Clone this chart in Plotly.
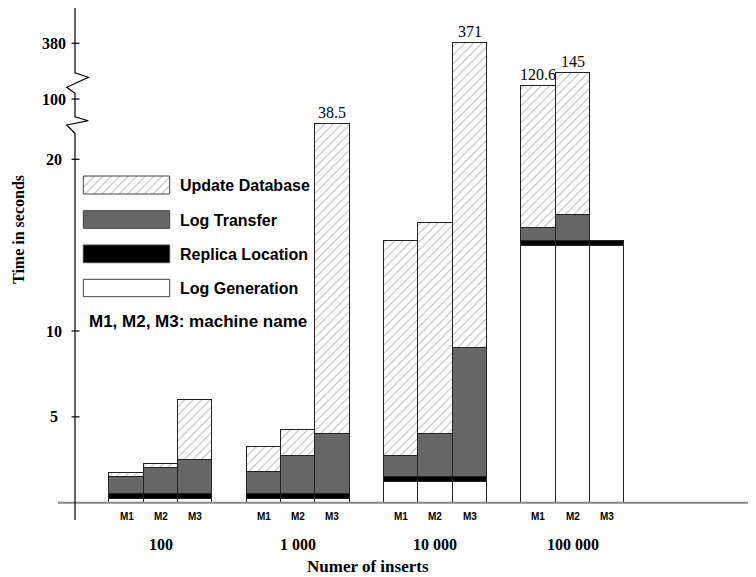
import plotly.graph_objects as go

# ---------------- data (heights on the broken display axis) ----------------
groups = ["100", "1 000", "10 000", "100 000"]
machines = ["M1", "M2", "M3"]
log_generation = [0.21, 0.21, 0.21, 0.21, 0.21, 0.21, 1.22, 1.22, 1.22, 14.97, 14.97, 14.97]
replica_location = [0.30, 0.30, 0.30, 0.30, 0.30, 0.30, 0.26, 0.26, 0.26, 0.29, 0.29, 0.29]
log_transfer = [0.97, 1.49, 1.98, 1.26, 2.21, 3.49, 1.26, 2.50, 7.52, 0.76, 1.50, None]
update_database = [0.25, 0.25, 3.51, 1.49, 1.51, 18.04, 12.49, 12.30, 17.76, 8.24, 8.24, None]
value_label_index = [5, 8, 9, 10]
value_labels = ["38.5", "371", "120.6", "145"]
ytick_vals = [5, 10, 20, 23.51, 26.76]
ytick_text = ["5", "10", "20", "100", "380"]
legend_names = ["Update Database", "Log Transfer", "Replica Location", "Log Generation"]

PAGE_W, PAGE_H = 756, 577
OFF = 8  # browser body margin
W, H = PAGE_W - OFF, PAGE_H - OFF
SERIF = "Liberation Serif, Times New Roman, serif"
SANS = "Liberation Sans, Arial, sans-serif"

# x positions: 3 bars per group, one empty slot between groups
xpos = [4 * g + m for g in range(len(groups)) for m in range(len(machines))]

HATCH = dict(shape="/", fgcolor="#6a6a6a", bgcolor="white", size=6, solidity=0.16)
GRAY = "#666666"
EDGE = "#222222"

fig = go.Figure()
series = [
    ("Log Generation", log_generation, dict(color="white")),
    ("Replica Location", replica_location, dict(color="black")),
    ("Log Transfer", log_transfer, dict(color=GRAY)),
    ("Update Database", update_database, dict(color="white", pattern=HATCH)),
]
for name, vals, mk in series:
    mk = dict(mk)
    mk["line"] = dict(color=EDGE, width=1)
    fig.add_trace(go.Bar(x=xpos, y=vals, name=name, width=1, marker=mk,
                         showlegend=False, hoverinfo="skip"))

# scale: slot width 34.33 px, slot0 centre at page x 126.5; 17.17 px per unit, zero at page y 502.7
SX, X0 = 34.33, 126.5
SY, Y0 = 17.17, 502.7
fig.update_layout(
    width=W, height=H, margin=dict(l=0, r=0, t=0, b=0),
    paper_bgcolor="white", plot_bgcolor="white", barmode="stack", bargap=0,
    xaxis=dict(range=[(OFF - X0) / SX, (PAGE_W - X0) / SX], visible=False, fixedrange=True),
    yaxis=dict(range=[(Y0 - PAGE_H) / SY, (Y0 - OFF) / SY], visible=False, fixedrange=True),
    xaxis2=dict(range=[OFF, PAGE_W], overlaying="x", anchor="y2", visible=False),
    yaxis2=dict(range=[PAGE_H, OFF], overlaying="y", anchor="x2", visible=False),
)

# legend swatches
sw_y = [(176, 194), (210.7, 228.3), (245, 262.7), (279.3, 296.7)]
sw_style = {
    "Update Database": dict(fillcolor="white", fillpattern=HATCH),
    "Log Transfer": dict(fillcolor=GRAY),
    "Replica Location": dict(fillcolor="black"),
    "Log Generation": dict(fillcolor="white"),
}
x0, x1 = 83.3, 169.7
for name, (ya, yb) in zip(legend_names, sw_y):
    fig.add_trace(go.Scatter(x=[x0, x1, x1, x0, x0], y=[ya, ya, yb, yb, ya],
                             mode="lines", fill="toself", line=dict(color="#444", width=1),
                             xaxis="x2", yaxis="y2", showlegend=False, hoverinfo="skip",
                             **sw_style[name]))
    fig.add_annotation(x=178, y=(ya + yb) / 2 + 0.5, xref="x2", yref="y2", text=name,
                       showarrow=False, xanchor="left", yanchor="middle",
                       font=dict(family=SANS, size=16, color="black", weight="bold"))
fig.add_annotation(x=87, y=321.7, xref="x2", yref="y2", text="M1, M2, M3: machine name",
                   showarrow=False, xanchor="left", yanchor="middle",
                   font=dict(family=SANS, size=17, color="black", weight="bold"))

# baseline (gray)
fig.add_shape(type="line", xref="x2", yref="y", x0=58, x1=PAGE_W, y0=0, y1=0,
              line=dict(color="#888888", width=2))
# broken y axis
fig.add_shape(type="path", xref="x2", yref="y2",
              path="M75,5 L75,72.7 L88.3,77.3 L66.7,87.3 L75,93.3 L75,116.7 "
                   "L88.3,120.7 L66.7,125 L75,133.3 L75,520",
              line=dict(color="black", width=1.2))
for v, t in zip(ytick_vals, ytick_text):
    fig.add_shape(type="line", xref="x2", yref="y", x0=71.5, x1=79.5, y0=v, y1=v,
                  line=dict(color="black", width=1.2))
    fig.add_annotation(x=53.5, y=v, xref="x2", yref="y", text=t, showarrow=False,
                       xanchor="center", yanchor="middle",
                       font=dict(family=SERIF, size=16, color="black", weight="bold"))

# value labels above tall bars
def stack_top(i):
    return sum(v[i] for v in (log_generation, replica_location, log_transfer, update_database)
               if v[i] is not None)

for i, t in zip(value_label_index, value_labels):
    fig.add_annotation(x=xpos[i], y=stack_top(i), xref="x", yref="y", text=t,
                       showarrow=False, xanchor="center", yanchor="bottom", yshift=1,
                       font=dict(family=SERIF, size=16, color="black"))

# machine labels and group labels
for i, x in enumerate(xpos):
    fig.add_annotation(x=x, y=516, xref="x", yref="y2", text=machines[i % 3],
                       showarrow=False, xanchor="center", yanchor="middle",
                       font=dict(family=SANS, size=10, color="black", weight="bold"))
for g, name in enumerate(groups):
    fig.add_annotation(x=4 * g + 1, y=544.3, xref="x", yref="y2", text=name,
                       showarrow=False, xanchor="center", yanchor="middle",
                       font=dict(family=SERIF, size=16, color="black", weight="bold"))

fig.add_annotation(x=368, y=566.7, xref="x2", yref="y2", text="Numer of inserts",
                   showarrow=False, xanchor="center", yanchor="middle",
                   font=dict(family=SERIF, size=17, color="black", weight="bold"))
fig.add_annotation(x=18, y=230, xref="x2", yref="y2", text="Time in seconds",
                   showarrow=False, xanchor="center", yanchor="middle", textangle=-90,
                   font=dict(family=SERIF, size=16, color="black", weight="bold"))

fig.write_html("out.html")
